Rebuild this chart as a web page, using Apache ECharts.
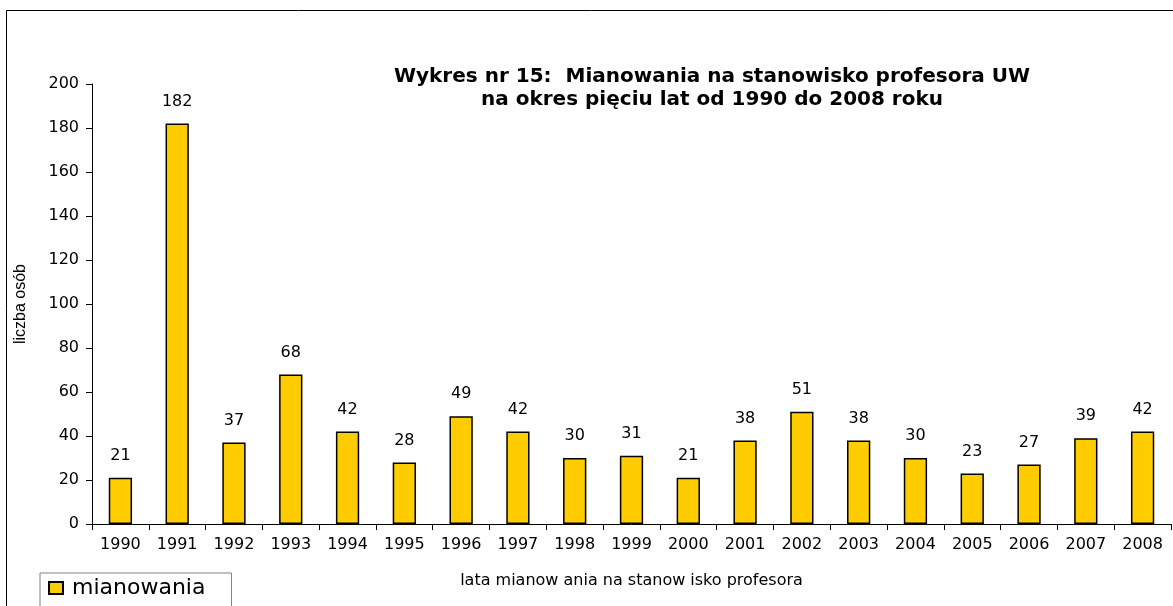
<!DOCTYPE html>
<html lang="pl">
  <head>
    <meta charset="UTF-8" />
    <title>Wykres nr 15</title>
    <script src="https://cdn.jsdelivr.net/npm/echarts@6/dist/echarts.min.js"></script>
    <style>
      html, body { margin: 0; padding: 0; background: #fff; }
    </style>
  </head>
  <body>
    <div id="main" style="width: 1173px; height: 606px"></div>
    <script type="text/javascript">
      // data
      const years = ["1990", "1991", "1992", "1993", "1994", "1995", "1996", "1997", "1998", "1999",
        "2000", "2001", "2002", "2003", "2004", "2005", "2006", "2007", "2008"];
      const appointments = [21, 182, 37, 68, 42, 28, 49, 42, 30, 31, 21, 38, 51, 38, 30, 23, 27, 39, 42];

      const wide = "DejaVu Sans, Verdana, sans-serif";
      const arial = "Liberation Sans, Arial, sans-serif";

      let myChart = echarts.init(document.getElementById("main"));
      let options = {
        animation: false,
        textStyle: { fontFamily: wide },
        title: {
          text: "Wykres nr 15:  Mianowania na stanowisko profesora UW\nna okres pięciu lat od 1990 do 2008 roku",
          left: 707,
          top: 60,
          textAlign: "center",
          textStyle: { fontSize: 20, fontWeight: "bold", color: "#000", lineHeight: 23, fontFamily: wide },
        },
        legend: {
          data: ["mianowania"],
          left: 40,
          top: 573,
          padding: [4, 26, 8, 8],
          borderColor: "#808080",
          borderWidth: 1,
          icon: "rect",
          itemWidth: 14,
          itemHeight: 12,
          itemGap: 6,
          textStyle: { fontSize: 22, color: "#000", fontFamily: wide, padding: [0, 0, 0, 4] },
        },
        grid: { left: 92, right: 2, top: 84, bottom: 82, containLabel: false },
        xAxis: {
          type: "category",
          data: years,
          name: "lata mianow ania na stanow isko profesora",
          nameLocation: "middle",
          nameGap: 49,
          nameTextStyle: { fontSize: 16, color: "#000", fontFamily: wide },
          axisLine: { lineStyle: { color: "#000", width: 1 } },
          axisTick: { show: true, length: 6, lineStyle: { color: "#000" } },
          axisLabel: { fontSize: 16, color: "#000", margin: 13, fontFamily: wide },
        },
        yAxis: {
          type: "value",
          min: 0,
          max: 200,
          interval: 20,
          name: "liczba osób",
          nameLocation: "middle",
          nameGap: 63,
          nameTextStyle: { fontSize: 16, color: "#000", fontFamily: arial },
          splitLine: { show: false },
          axisLine: { show: true, lineStyle: { color: "#000", width: 1 } },
          axisTick: { show: true, length: 6, lineStyle: { color: "#000" } },
          axisLabel: { fontSize: 16, color: "#000", margin: 13, fontFamily: wide },
        },
        series: [
          {
            name: "mianowania",
            type: "bar",
            data: appointments,
            barWidth: "41%",
            itemStyle: { color: "#FFCC00", borderColor: "#000", borderWidth: 1.5 },
            label: { show: true, position: "top", distance: 14, fontSize: 16, color: "#000", fontFamily: wide },
          },
        ],
        graphic: [
          {
            type: "rect",
            shape: { x: 6.5, y: 10.5, width: 1200, height: 700 },
            style: { fill: "none", stroke: "#000", lineWidth: 1 },
            silent: true,
          },
        ],
      };
      myChart.setOption(options);
    </script>
  </body>
</html>
